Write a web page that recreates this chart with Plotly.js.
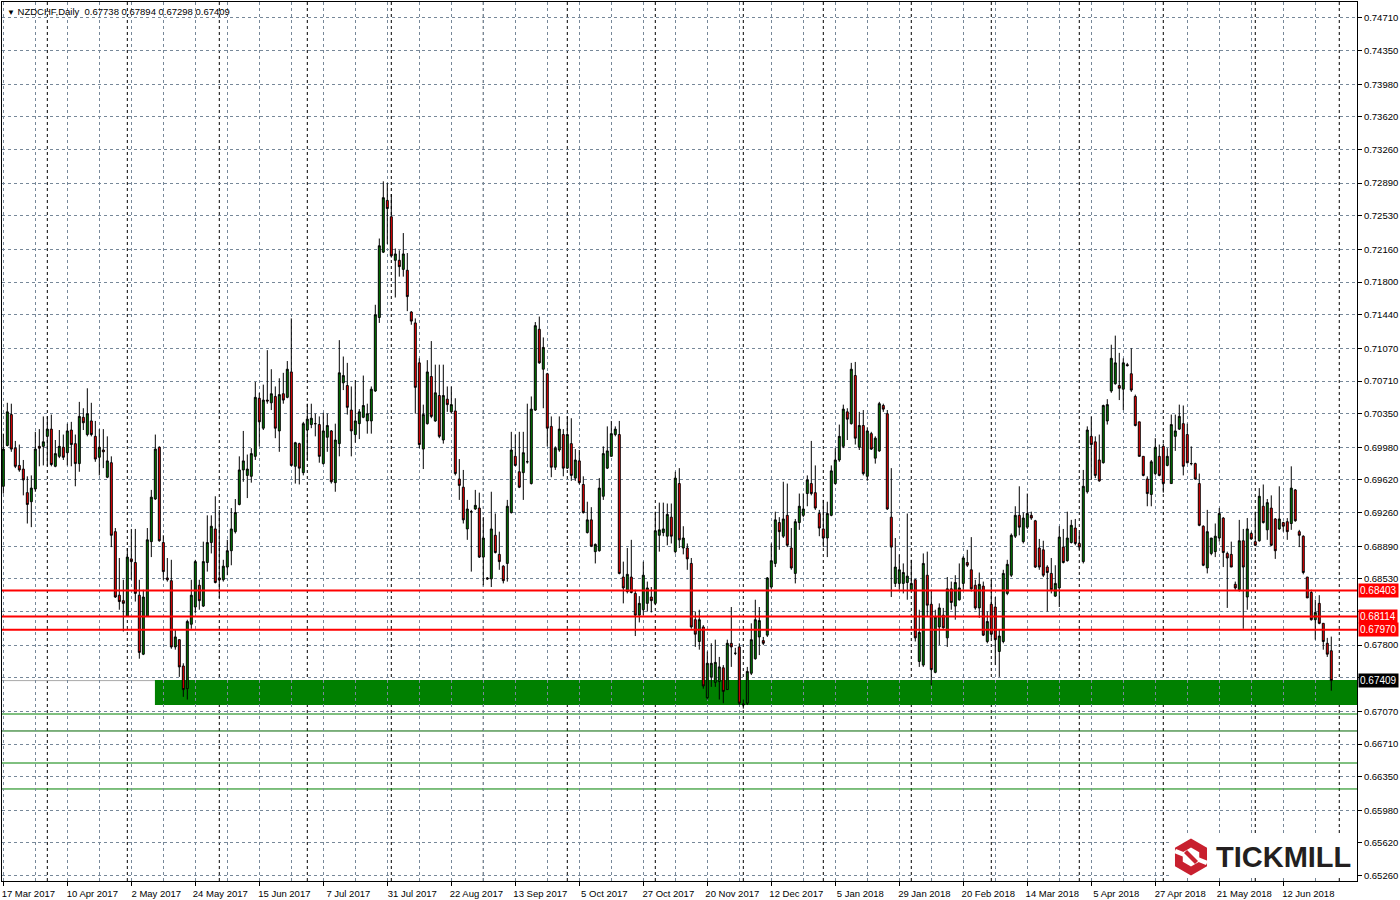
<!DOCTYPE html>
<html>
<head>
<meta charset="utf-8">
<script src="https://cdn.plot.ly/plotly-3.0.1.min.js"></script>
<style>html,body{margin:0;padding:0;background:#fff;}#chart{width:1400px;height:900px;}</style>
</head>
<body>
<div id="chart"></div>
<script>
// ---- DATA: NZDCHF daily candles, 17 Mar 2017 .. 28 Jun 2018 ----
const symbolName = "NZDCHF,Daily";
const open = [
.6955,.7000,.7034,.6997,.6978,.6974,.6948,.6938,.6952,.6999,
.6999,.7010,.7018,.6977,.6988,.6998,.6992,.7017,.7002,.6980,
.7031,.7012,.7027,.7010,.6987,.6995,.6965,.6981,.6905,.6835,
.6829,.6812,.6875,.6871,.6835,.6770,.6812,.6894,.6941,.6998,
.6893,.6854,.6851,.6778,.6786,.6757,.6732,.6803,.6822,.6846,
.6823,.6871,.6893,.6908,.6854,.6852,.6866,.6884,.6905,.6935,
.6973,.6967,.6966,.6988,.7052,.7019,.7050,.7047,.7054,.7016,
.7057,.7053,.7081,.6977,.7002,.6970,.7017,.7023,.7024,.7023,
.6980,.7009,.7016,.6959,.7002,.7069,.7066,.7039,.7012,.7024,
.7031,.7027,.7027,.7060,.7141,.7213,.7270,.7252,.7204,.7204,
.7194,.7193,.7147,.7135,.7091,.6996,.7024,.7076,.7027,.7055,
.7006,.7051,.7037,.7038,.6963,.6954,.6908,.6927,.6930,.6931,
.6877,.6854,.6853,.6901,.6880,.6867,.6870,.6926,.6988,.6971,
.6970,.6982,.6958,.7039,.7128,.7084,.7079,.7021,.6976,.6995,
.7012,.6975,.7002,.6964,.6983,.6957,.6904,.6918,.6883,.6884,
.6944,.6975,.6988,.7012,.7012,.6855,.6839,.6855,.6837,.6813,
.6819,.6826,.6833,.6826,.6901,.6904,.6900,.6921,.6883,.6958,
.6887,.6887,.6870,.6808,.6784,.6800,.6722,.6745,.6739,.6740,
.6755,.6731,.6782,.6771,.6778,.6714,.6716,.6749,.6765,.6789,
.6785,.6791,.6844,.6870,.6915,.6900,.6923,.6887,.6859,.6915,
.6923,.6947,.6958,.6948,.6925,.6908,.6898,.6923,.6958,.6984,
.6999,.7037,.7024,.7077,.6998,.7022,.6966,.7013,.6986,.6994,
.7044,.7035,.6921,.6848,.6848,.6848,.6849,.6841,.6852,.6762,
.6758,.6857,.6825,.6750,.6800,.6813,.6788,.6842,.6823,.6830,
.6848,.6871,.6863,.6846,.6821,.6845,.6784,.6825,.6822,.6773,
.6784,.6837,.6857,.6900,.6923,.6894,.6910,.6923,.6917,.6887,
.6885,.6866,.6859,.6834,.6843,.6888,.6873,.6893,.6909,.6892,
.6872,.6949,.7010,.7004,.6984,.6981,.7027,.7060,.7068,.7066,
.7062,.7089,.7079,.7054,.7026,.6988,.6963,.6946,.6969,.6988,
.6999,.6978,.6958,.7010,.7018,.7024,.7012,.6980,.6980,.6958,
.6911,.6865,.6881,.6883,.6898,.6920,.6881,.6880,.6847,.6841,
.6895,.6833,.6903,.6894,.6895,.6933,.6907,.6931,.6919,.6908,
.6915,.6916,.6914,.6951,.6905,.6900,.6855,.6838,.6808,.6826,
.6804,.6782,.67738];
const high = [
.7013,.7047,.7046,.7005,.7001,.6984,.6966,.6967,.7015,.7018,
.7032,.7032,.7034,.7006,.7017,.7012,.7024,.7026,.7012,.7048,
.7041,.7063,.7047,.7027,.7018,.7018,.7010,.6988,.6909,.6876,
.6852,.6887,.6908,.6908,.6852,.6841,.6909,.6951,.7012,.6999,
.6901,.6876,.6874,.6797,.6786,.6760,.6808,.6852,.6874,.6852,
.6894,.6923,.6923,.6944,.6929,.6874,.6896,.6931,.6941,.6988,
.7016,.6990,.6997,.7070,.7058,.7067,.7105,.7084,.7065,.7074,
.7080,.7093,.7140,.7004,.7003,.7026,.7046,.7046,.7035,.7032,
.7036,.7035,.7017,.7024,.7116,.7098,.7091,.7065,.7072,.7040,
.7077,.7046,.7065,.7155,.7228,.7291,.7289,.7277,.7217,.7215,
.7234,.7212,.7148,.7140,.7096,.7045,.7094,.7115,.7089,.7089,
.7089,.7065,.7065,.7052,.6985,.6973,.6940,.6929,.6951,.6948,
.6921,.6855,.6949,.6925,.6905,.6868,.6940,.7015,.7012,.7015,
.7015,.7046,.7054,.7136,.7142,.7119,.7080,.7032,.6999,.7032,
.7018,.7032,.7030,.6996,.6995,.6966,.6938,.6932,.6892,.6964,
.6999,.7021,.7027,.7021,.7027,.6872,.6887,.6896,.6841,.6834,
.6872,.6850,.6844,.6927,.6937,.6937,.6936,.6936,.6971,.6975,
.6911,.6892,.6876,.6817,.6819,.6802,.6773,.6782,.6786,.6767,
.6758,.6786,.6822,.6777,.6782,.6720,.6756,.6804,.6830,.6822,
.6789,.6855,.6892,.6927,.6921,.6960,.6958,.6909,.6919,.6947,
.6947,.6967,.7005,.6978,.6929,.6940,.6938,.6978,.6997,.7023,
.7045,.7041,.7091,.7092,.7037,.7039,.7020,.7015,.7010,.7048,
.7046,.7039,.6975,.6898,.6880,.6870,.6925,.6874,.6853,.6819,
.6881,.6883,.6841,.6819,.6826,.6821,.6855,.6850,.6857,.6870,
.6878,.6885,.6899,.6852,.6860,.6850,.6817,.6852,.6833,.6797,
.6863,.6874,.6903,.6933,.6955,.6926,.6947,.6927,.6918,.6897,
.6895,.6868,.6876,.6868,.6911,.6908,.6927,.6918,.6919,.6904,
.6973,.7021,.7032,.7010,.7012,.7045,.7051,.7111,.7121,.7102,
.7096,.7091,.7107,.7056,.7026,.6988,.6966,.6984,.7008,.7001,
.7002,.6997,.7034,.7034,.7045,.7044,.7024,.6999,.6981,.6969,
.6912,.6929,.6898,.6914,.6931,.6921,.6883,.6894,.6850,.6918,
.6908,.6920,.6905,.6927,.6953,.6957,.6941,.6945,.6920,.6955,
.6916,.6920,.6977,.6952,.6907,.6901,.6855,.6841,.6830,.6835,
.6804,.6788,.67894];
const low = [
.6947,.6999,.6993,.6975,.6971,.6945,.6914,.6910,.6949,.6977,
.6978,.6977,.6977,.6976,.6986,.6984,.6978,.6977,.6955,.6971,
.7017,.7010,.7010,.6982,.6967,.6975,.6964,.6888,.6832,.6819,
.6795,.6811,.6852,.6828,.6765,.6769,.6811,.6877,.6940,.6894,
.6852,.6850,.6776,.6775,.6745,.6723,.6720,.6798,.6815,.6819,
.6822,.6861,.6881,.6848,.6832,.6850,.6857,.6868,.6903,.6934,
.6960,.6942,.6959,.6984,.6999,.7017,.7046,.7039,.7008,.6993,
.7046,.7052,.6977,.6958,.6957,.6967,.6984,.7019,.7010,.6981,
.6979,.6993,.6958,.6949,.6988,.7061,.7034,.6988,.7003,.7007,
.7030,.7013,.7013,.7059,.7135,.7212,.7222,.7207,.7163,.7186,
.7186,.7148,.7133,.7035,.6997,.6974,.7023,.7030,.7026,.7008,
.7002,.7037,.7035,.6967,.6940,.6914,.6896,.6861,.6929,.6876,
.6846,.6852,.6844,.6881,.6863,.6848,.6850,.6925,.6977,.6953,
.6940,.6980,.6957,.7038,.7090,.7041,.6999,.6965,.6973,.6993,
.6966,.6974,.6961,.6961,.6957,.6925,.6903,.6888,.6870,.6883,
.6940,.6974,.6988,.7010,.6858,.6826,.6837,.6837,.6790,.6805,
.6813,.6817,.6816,.6824,.6883,.6900,.6890,.6892,.6881,.6887,
.6880,.6863,.6798,.6778,.6775,.6732,.6720,.6734,.6734,.6720,
.6716,.6731,.6756,.6769,.6714,.6710,.6714,.6747,.6764,.6769,
.6780,.6789,.6842,.6866,.6885,.6898,.6888,.6863,.6848,.6907,
.6921,.6933,.6945,.6929,.6900,.6888,.6877,.6922,.6957,.6982,
.6997,.7006,.7023,.7001,.6995,.6967,.6961,.6995,.6980,.6993,
.7037,.6929,.6833,.6844,.6841,.6837,.6830,.6839,.6784,.6756,
.6756,.6811,.6736,.6749,.6780,.6798,.6778,.6819,.6808,.6829,
.6841,.6866,.6839,.6819,.6810,.6790,.6782,.6788,.6758,.6745,
.6782,.6835,.6855,.6898,.6901,.6892,.6908,.6918,.6865,.6863,
.6855,.6817,.6837,.6833,.6822,.6870,.6872,.6892,.6890,.6885,
.6870,.6947,.6962,.6964,.6960,.6980,.7023,.7058,.7067,.7050,
.7039,.7087,.7059,.7021,.6988,.6966,.6933,.6933,.6967,.6966,
.6948,.6977,.6958,.6994,.7017,.6967,.6980,.6978,.6962,.6911,
.6867,.6859,.6879,.6877,.6894,.6866,.6821,.6866,.6841,.6839,
.6798,.6819,.6896,.6889,.6894,.6914,.6896,.6889,.6875,.6907,
.6905,.6896,.6907,.6916,.6888,.6858,.6832,.6807,.6786,.6803,
.6775,.6767,.67298];
const close = [
.6996,.7037,.6996,.6977,.6973,.6962,.6935,.6953,.6996,.6997,
.7004,.7018,.6979,.6991,.6999,.6987,.7016,.7001,.6980,.7032,
.7025,.7035,.7012,.6985,.6998,.6993,.6983,.6901,.6833,.6828,
.6826,.6877,.6872,.6837,.6772,.6833,.6896,.6943,.6996,.6895,
.6861,.6852,.6778,.6789,.6756,.6731,.6806,.6835,.6872,.6829,
.6872,.6893,.6911,.6849,.6852,.6867,.6884,.6908,.6926,.6973,
.6983,.6974,.6991,.7053,.7026,.7050,.7049,.7057,.7019,.7056,
.7050,.7084,.6978,.7003,.6975,.7024,.7029,.7030,.7024,.6988,
.7016,.7022,.6960,.7006,.7080,.7077,.7042,.7016,.7027,.7037,
.7044,.7035,.7062,.7144,.7220,.7273,.7261,.7209,.7211,.7197,
.7211,.7164,.7137,.7064,.7001,.7034,.7081,.7032,.7058,.7010,
.7055,.7045,.7045,.6969,.6956,.6918,.6930,.6927,.6934,.6877,
.6898,.6853,.6908,.6882,.6872,.6851,.6933,.6995,.6978,.6954,
.6992,.6982,.7040,.7132,.7091,.7108,.7019,.6976,.6997,.7018,
.6975,.7012,.6967,.6984,.6959,.6926,.6918,.6889,.6891,.6953,
.6991,.6994,.7013,.7018,.6859,.6843,.6858,.6838,.6813,.6826,
.6857,.6843,.6829,.6906,.6907,.6908,.6924,.6900,.6964,.6896,
.6898,.6875,.6800,.6792,.6808,.6735,.6760,.6760,.6761,.6756,
.6729,.6782,.6778,.6771,.6716,.6715,.6751,.6786,.6808,.6807,
.6782,.6854,.6873,.6918,.6905,.6919,.6890,.6865,.6916,.6933,
.6930,.6962,.6947,.6931,.6909,.6898,.6925,.6972,.6984,.7010,
.7040,.7029,.7084,.7008,.7022,.6969,.7016,.6996,.7008,.7046,
.7040,.6930,.6888,.6866,.6863,.6860,.6856,.6848,.6788,.6794,
.6870,.6824,.6753,.6811,.6821,.6799,.6842,.6827,.6849,.6843,
.6876,.6868,.6842,.6821,.6847,.6791,.6806,.6792,.6786,.6790,
.6859,.6869,.6901,.6923,.6910,.6920,.6925,.6920,.6866,.6866,
.6857,.6860,.6841,.6848,.6899,.6871,.6898,.6912,.6892,.6888,
.6955,.7017,.7001,.6967,.6961,.7044,.7045,.7096,.7091,.7063,
.7091,.7088,.7061,.7022,.6988,.6967,.6947,.6982,.6998,.6967,
.6958,.6988,.7023,.7016,.7032,.6977,.6981,.6980,.6963,.6912,
.6868,.6905,.6898,.6900,.6925,.6882,.6876,.6866,.6843,.6895,
.6866,.6908,.6897,.6890,.6944,.6915,.6937,.6890,.6884,.6919,
.6911,.6905,.6953,.6917,.6901,.6860,.6832,.6808,.6816,.6804,
.6784,.6770,.67409];

// x-axis date labels (every 16 bars) and the bar index where each label sits
const dateLabels = ["17 Mar 2017","10 Apr 2017","2 May 2017","24 May 2017","15 Jun 2017","7 Jul 2017",
  "31 Jul 2017","22 Aug 2017","13 Sep 2017","5 Oct 2017","27 Oct 2017","20 Nov 2017","12 Dec 2017",
  "5 Jan 2018","29 Jan 2018","20 Feb 2018","14 Mar 2018","5 Apr 2018","27 Apr 2018","21 May 2018","12 Jun 2018"];
const dateLabelBars = [0,16,32,48,64,80,96,112,128,144,160,176,192,208,224,240,256,272,288,304,320];
// first bar of each month (period separators)
const monthStartBars = [11,31,54,76,97,120,141,163,185,205,227,247,269,290,313,334];
// price scale labels (those hidden behind level tags in the original are left blank)
const priceTicks = [0.74710,0.74350,0.73980,0.73620,0.73260,0.72890,0.72530,0.72160,0.71800,0.71440,
  0.71070,0.70710,0.70350,0.69980,0.69620,0.69260,0.68890,0.68530,0.68170,0.67800,0.67440,0.67070,
  0.66710,0.66350,0.65980,0.65620,0.65260];
const hiddenPriceTicks = [0.68170, 0.67440];
// horizontal levels
const redLevels = [0.68403, 0.68114, 0.67970];
const bidPrice = 0.67409;
const zoneTop = 0.67416, zoneBottom = 0.67141, zoneStartBar = 37.9;
const greenLevels = [0.67041, 0.66501, 0.66215];
const darkLevels = [0.66854];

// ---- CHART ----
const xIdx = close.map((_, i) => i);
const xRange = [-0.33, 338.43];
const yRange = [0.65201, 0.74886];
const gridCol = '#778899';
const gridDash = '3px,3px';
const FONT = 'Liberation Sans, Arial, sans-serif';
const f5 = v => v.toFixed(5);

const trace = {
  type: 'candlestick', x: xIdx, open: open, high: high, low: low, close: close,
  increasing: {line: {color: '#000000', width: 1}, fillcolor: '#008000'},
  decreasing: {line: {color: '#000000', width: 1}, fillcolor: '#FF0000'},
  whiskerwidth: 0, hoverinfo: 'skip', showlegend: false
};

const shapes = [];
monthStartBars.forEach(b => shapes.push({type:'line', xref:'x', yref:'paper', x0:b, x1:b, y0:0, y1:1,
  line:{color:'#000000', width:1, dash:'3px,3px'}, layer:'below'}));
shapes.push({type:'line', xref:'paper', yref:'y', x0:0, x1:1, y0:bidPrice, y1:bidPrice,
  line:{color:'#A9A9A9', width:1}, layer:'below'});
shapes.push({type:'rect', xref:'x', yref:'y', x0:zoneStartBar, x1:xRange[1], y0:zoneBottom, y1:zoneTop,
  fillcolor:'#008000', line:{width:0}, layer:'below'});
greenLevels.forEach(v => shapes.push({type:'line', xref:'paper', yref:'y', x0:0, x1:1, y0:v, y1:v,
  line:{color:'#008000', width:1}, layer:'below'}));
darkLevels.forEach(v => shapes.push({type:'line', xref:'paper', yref:'y', x0:0, x1:1, y0:v, y1:v,
  line:{color:'#006400', width:1}, layer:'below'}));
redLevels.forEach(v => shapes.push({type:'line', xref:'paper', yref:'y', x0:0, x1:1, y0:v, y1:v,
  line:{color:'#FF0000', width:2}, layer:'above'}));

// logo (pixel helpers)
const PL = 2, PR = 1357, PT = 2, PB = 881;
const px = x => (x - PL) / (PR - PL);
const py = y => (PB - y) / (PB - PT);
function hex(cx, cy, r, rev) {
  const pts = [];
  for (let k = 0; k < 6; k++) {
    const a = (-90 + 60 * k) * Math.PI / 180;
    pts.push([cx + r * Math.cos(a), cy + r * Math.sin(a)]);
  }
  if (rev) pts.reverse();
  return 'M' + pts.map(p => px(p[0]).toFixed(5) + ',' + py(p[1]).toFixed(5)).join(' L') + ' Z';
}
function poly(pts) {
  return 'M' + pts.map(p => px(p[0]).toFixed(5) + ',' + py(p[1]).toFixed(5)).join(' L') + ' Z';
}
shapes.push({type:'rect', xref:'paper', yref:'paper', x0:px(1171), x1:px(1356), y0:py(878), y1:py(835),
  fillcolor:'#FFFFFF', line:{width:0}, layer:'above'});
const hcx = 1191, hcy = 857;
shapes.push({type:'path', xref:'paper', yref:'paper', path: hex(hcx, hcy, 18.5, false) + ' ' + hex(hcx, hcy, 9.5, true),
  fillcolor:'#C8202F', line:{width:0}, layer:'above'});
shapes.push({type:'path', xref:'paper', yref:'paper', path: poly([[1174,853],[1176,849],[1186,853],[1184,857]]),
  fillcolor:'#FFFFFF', line:{width:0}, layer:'above'});
shapes.push({type:'path', xref:'paper', yref:'paper', path: poly([[1198,857],[1196,861],[1206,865],[1208,861]]),
  fillcolor:'#FFFFFF', line:{width:0}, layer:'above'});
shapes.push({type:'path', xref:'paper', yref:'paper', path: poly([[1184,853],[1187,850],[1198,861],[1195,864]]),
  fillcolor:'#C8202F', line:{width:0}, layer:'above'});

const last = close.length - 1;
const annotations = [
  {xref:'paper', yref:'paper', x:0, y:1, xanchor:'left', yanchor:'top', xshift:3, yshift:-2, showarrow:false,
   text:'<span style="font-size:8px">▼</span> ' + symbolName + '  ' + f5(open[last]) + ' ' + f5(high[last]) + ' ' + f5(low[last]) + ' ' + f5(close[last]),
   font:{family:FONT, size:9.5, color:'#000000'}},
  {xref:'paper', yref:'paper', x:px(1214), y:py(857), xanchor:'left', yanchor:'middle', showarrow:false,
   text:'<b>TICKMILL</b>', font:{family:'Liberation Sans, Arial, sans-serif', size:29, color:'#231F20'}}
];
redLevels.forEach(v => annotations.push({xref:'paper', yref:'y', x:1, y:v, xanchor:'left', yanchor:'middle', xshift:1,
  showarrow:false, text:f5(v), bgcolor:'#FF0000', borderpad:1, font:{family:FONT, size:10, color:'#FFFFFF'}}));
annotations.push({xref:'paper', yref:'y', x:1, y:bidPrice, xanchor:'left', yanchor:'middle', xshift:1,
  showarrow:false, text:f5(bidPrice), bgcolor:'#000000', borderpad:1, font:{family:FONT, size:10, color:'#FFFFFF'}});

const layout = {
  width: 1400, height: 900,
  margin: {l: PL, r: 1400 - PR, t: PT, b: 900 - PB, pad: 0},
  paper_bgcolor: '#FFFFFF', plot_bgcolor: '#FFFFFF',
  showlegend: false, dragmode: false,
  xaxis: {
    range: xRange, type: 'linear', tickmode: 'array', tickvals: dateLabelBars, ticktext: dateLabels,
    ticks: 'outside', ticklen: 4, tickcolor: '#000000', tickwidth: 1,
    ticklabelshift: 25,
    tickfont: {family: FONT, size: 9.5, color: '#000000'},
    showgrid: true, gridcolor: gridCol, griddash: gridDash, gridwidth: 1,
    minor: {tickvals: dateLabelBars.map(v => v + 8), showgrid: true, gridcolor: gridCol, griddash: gridDash, gridwidth: 1, ticks: ''},
    showline: true, linecolor: '#000000', linewidth: 1, mirror: true, zeroline: false,
    rangeslider: {visible: false}, fixedrange: true
  },
  yaxis: {
    range: yRange, side: 'right', tickmode: 'array', tickvals: priceTicks,
    ticktext: priceTicks.map(v => hiddenPriceTicks.includes(v) ? '' : f5(v)),
    ticks: 'outside', ticklen: 4, tickcolor: '#000000', tickwidth: 1,
    tickfont: {family: FONT, size: 9.5, color: '#000000'},
    showgrid: true, gridcolor: gridCol, griddash: gridDash, gridwidth: 1,
    showline: true, linecolor: '#000000', linewidth: 1, mirror: true, zeroline: false, fixedrange: true
  },
  shapes: shapes,
  annotations: annotations
};

Plotly.newPlot('chart', [trace], layout, {displayModeBar: false, staticPlot: true});
</script>
</body>
</html>
